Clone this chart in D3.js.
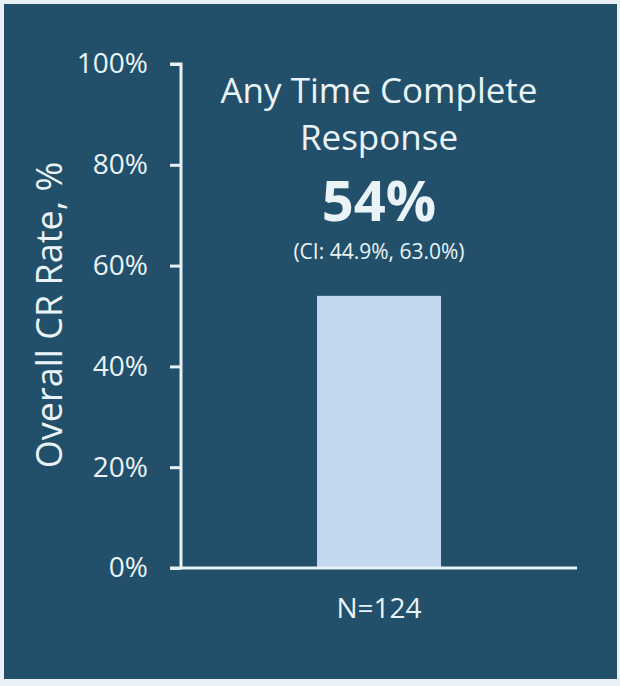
<!DOCTYPE html>
<html>
<head>
<meta charset="utf-8">
<script src="https://cdn.jsdelivr.net/npm/d3@7"></script>
<style>
  body { margin: 0; background: #e9f1f6; }
  svg text { font-family: "Open Sans", sans-serif; fill: #eaf4f8; }
</style>
</head>
<body>
<div class="root"></div>
<script>
var categories = ['N=124'];
var values = [54];
var tickValues = [0, 20, 40, 60, 80, 100];
var titleLines = ['Any Time Complete', 'Response'];
var bigLabel = '54%';
var ciLabel = '(CI: 44.9%, 63.0%)';
var yTitle = 'Overall CR Rate, %';

function runChart() {
  var w = 620;
  var h = 686;

  var svg = d3.select('.root').append('svg')
    .attr('width', w)
    .attr('height', h);

  svg.append('rect')
    .attr('x', 4)
    .attr('y', 4)
    .attr('width', 613)
    .attr('height', 675)
    .attr('fill', '#22506a');

  var y = d3.scaleLinear().domain([0, 100]).range([568, 64]);
  var x = d3.scaleBand().domain(categories).range([181, 577]).paddingInner(0).paddingOuter(1.097);

  // bar
  svg.selectAll('rect.bar')
    .data(values)
    .enter().append('rect')
      .attr('class', 'bar')
      .attr('x', function(d, i) { return x(categories[i]); })
      .attr('width', x.bandwidth())
      .attr('y', function(d) { return y(d); })
      .attr('height', function(d) { return y(0) - y(d); })
      .attr('fill', '#c3d8ee');

  // y axis
  var yAxis = svg.append('g')
    .attr('transform', 'translate(181,0)')
    .call(d3.axisLeft(y).tickValues(tickValues).tickSize(11).tickPadding(22)
      .tickFormat(function(d) { return d + '%'; }));
  yAxis.selectAll('line, path').attr('stroke', '#e8f1f5').attr('stroke-width', 3);
  yAxis.select('.domain').attr('d', 'M-11,64H0V568');
  yAxis.selectAll('text')
    .style('font-size', '28px')
    .attr('fill', '#eaf4f8');

  // x axis
  var xAxis = svg.append('g')
    .attr('transform', 'translate(0,568)')
    .call(d3.axisBottom(x).tickSize(0).tickPadding(30));
  xAxis.select('.domain').attr('d', 'M170,0H577').attr('stroke', '#e8f1f5').attr('stroke-width', 3);
  xAxis.selectAll('text')
    .style('font-size', '28px')
    .attr('fill', '#eaf4f8');

  var cx = x(categories[0]) + x.bandwidth() / 2;

  svg.append('text')
    .attr('transform', 'translate(62,' + 315 + ') rotate(-90)')
    .attr('text-anchor', 'middle')
    .style('font-size', '36px')
    .text(yTitle);

  svg.selectAll('text.title')
    .data(titleLines)
    .enter().append('text')
      .attr('class', 'title')
      .attr('x', cx)
      .attr('y', function(d, i) { return 103 + i * 47; })
      .attr('text-anchor', 'middle')
      .style('font-size', '35px')
      .text(function(d) { return d; });

  svg.append('text')
    .attr('x', cx)
    .attr('y', 221)
    .attr('text-anchor', 'middle')
    .style('font-size', '56px')
    .style('font-weight', 'bold')
    .text(bigLabel);

  svg.append('text')
    .attr('x', cx)
    .attr('y', 259)
    .attr('text-anchor', 'middle')
    .style('font-size', '21px')
    .text(ciLabel);
}

window.onload = function() {
  runChart();
}
</script>
</body>
</html>
